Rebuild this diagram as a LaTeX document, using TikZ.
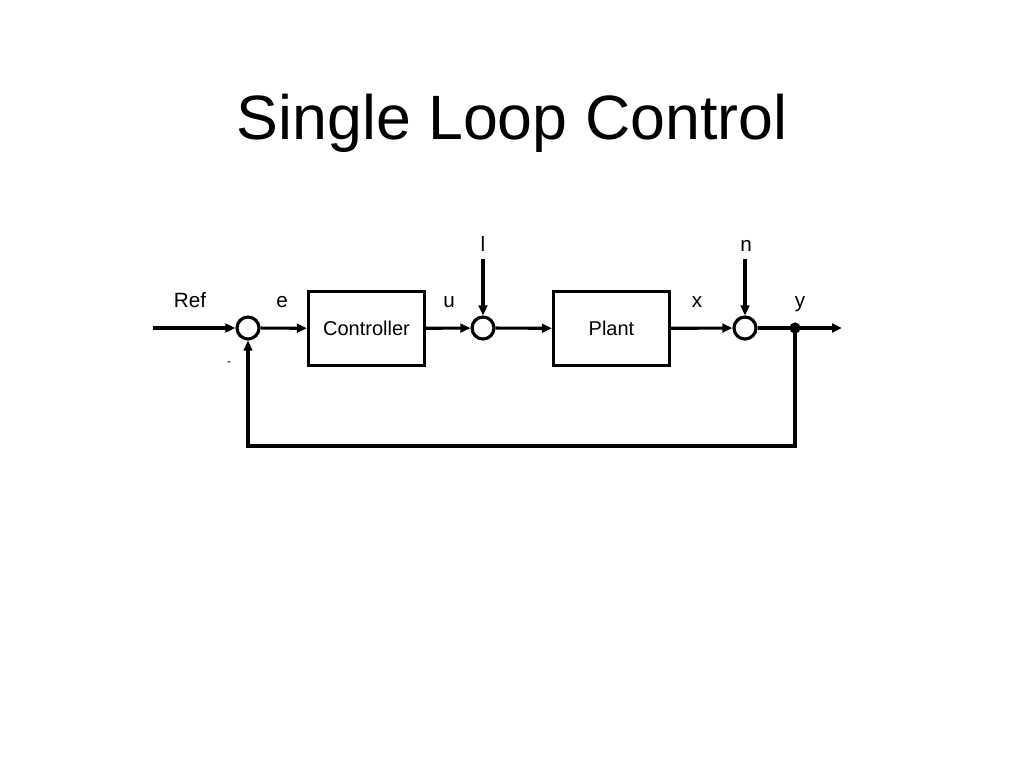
\documentclass[tikz,border=0pt]{standalone}
\usepackage{fontspec}
\setmainfont{Liberation Sans}
\usetikzlibrary{arrows.meta}
\begin{document}
\begin{tikzpicture}[x=0.75pt,y=-0.75pt,
  sig/.style={line width=2.35pt,-{Triangle[length=7.5pt,width=6.5pt]}},
  blk/.style={draw,line width=2.35pt,minimum width=87pt,minimum height=56pt,inner sep=0pt,font=\fontsize{15}{17}\selectfont},
  sumj/.style={draw,circle,line width=2.35pt,minimum size=16.5pt,inner sep=0pt},
  lbl/.style={font=\fontsize{15.5}{17}\selectfont,anchor=base,inner sep=0pt}]
\useasboundingbox (0,0) rectangle (1024,768);
\node[font=\fontsize{47}{54}\selectfont] (title) at (512,123) {Single Loop Control};
\node[sumj] (s1) at (248,328) {};
\node[blk] (ctrl) at (366.5,328.5) {Controller};
\node[sumj] (s2) at (483,328) {};
\node[blk] (plant) at (611.5,328.5) {Plant};
\node[sumj] (s3) at (745,328) {};
\coordinate (dot) at (795,328);
\coordinate (in) at (153,328);
\coordinate (out) at (842,328);
\coordinate (ltop) at (483,259);
\coordinate (ntop) at (745,259);
\coordinate (c1) at (795,446);
\coordinate (c2) at (248,446);
\draw[sig] (in) -- (s1);
\draw[sig] (s1) -- (ctrl);
\draw[sig] (ctrl) -- (s2);
\draw[sig] (s2) -- (plant);
\draw[sig] (plant) -- (s3);
\draw[sig] (s3) -- (out);
\draw[sig] (ltop) -- (s2);
\draw[sig] (ntop) -- (s3);
\draw[sig] (dot) -- (c1) -- (c2) -- (s1);
\fill (dot) circle (4.2pt);
\node[lbl] (lRef) at (190,307) {Ref};
\node[lbl] (le) at (282,307) {e};
\node[lbl] (lu) at (449,307) {u};
\node[lbl] (lx) at (697,307) {x};
\node[lbl] (ly) at (800,307) {y};
\node[lbl] (ll) at (483,251) {l};
\node[lbl] (ln) at (746,251) {n};
\node[font=\fontsize{9}{10}\selectfont] (minus) at (229,364) {-};
\end{tikzpicture}
\end{document}
